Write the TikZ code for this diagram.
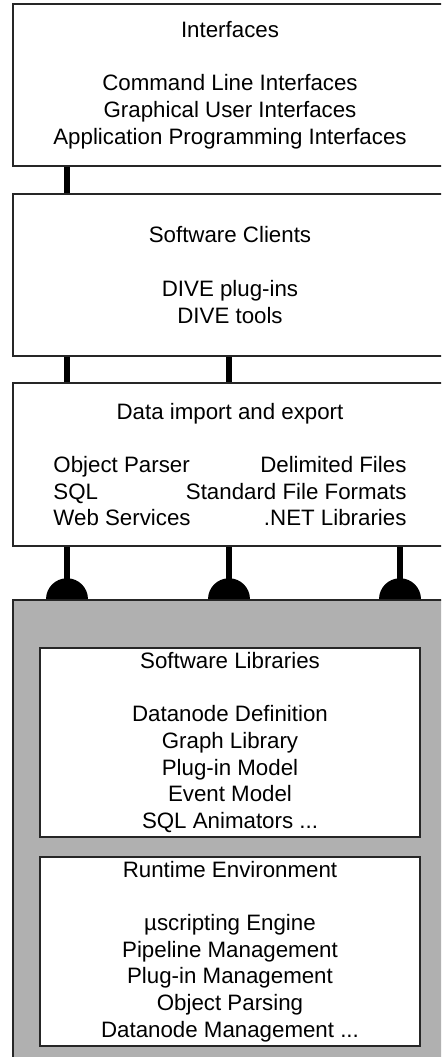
\documentclass[tikz,border=0pt]{standalone}
\usepackage{fontspec}
\setmainfont{Liberation Sans}
\usepackage{tikz}
\usetikzlibrary{positioning}

\definecolor{platformgray}{gray}{0.69}

\begin{document}
\begin{tikzpicture}[
      x=0.5pt, y=0.5pt,
      every node/.style={inner sep=0pt, align=center, font=\fontsize{11.15}{13.35}\selectfont},
      layer/.style={draw=black!85, line width=0.75pt, fill=white, minimum width=217pt},
      platform/.style={draw=black!85, line width=0.75pt, fill=platformgray, minimum width=217pt, minimum height=231pt},
      inner/.style={draw=black!85, line width=0.75pt, fill=white, minimum width=190pt, minimum height=94.5pt},
      link/.style={line width=2.6pt}
    ]

    \useasboundingbox (0,0) rectangle (441,1057);
    \clip (0,0) rectangle (441,1057);

    % layers
    \node[layer, minimum height=81pt] (iface) at (230,972)
      {Interfaces\\[13.35pt]Command Line Interfaces\\Graphical User Interfaces\\Application Programming Interfaces};
    \node[layer, minimum height=81pt] (clients) at (230,782)
      {Software Clients\\[13.35pt]DIVE plug-ins\\DIVE tools};
    \node[layer, minimum height=81.5pt] (dataio) at (230,592.5)
      {Data import and export\\[13.35pt]
       \makebox[176.5pt]{\rlap{Object Parser}\hfill\llap{Delimited Files}}\\
       \makebox[176.5pt]{\rlap{SQL}\hfill\llap{Standard File Formats}}\\
       \makebox[176.5pt]{\rlap{Web Services}\hfill\llap{.NET Libraries}}};

    \node[platform] (platform) at (230,226) {};
    \node[inner] (libs) at (230,314.5)
      {Software Libraries\\[13.35pt]Datanode Definition\\Graph Library\\Plug-in Model\\Event Model\\SQL Animators ...};
    \node[inner] (runtime) at (230,105.5)
      {Runtime Environment\\[13.35pt]µscripting Engine\\Pipeline Management\\Plug-in Management\\Object Parsing\\Datanode Management ...};

    % connector columns
    \coordinate (colA) at (67,0);
    \coordinate (colB) at (229,0);
    \coordinate (colC) at (400,0);

    \draw[link] (iface.south -| colA) -- (clients.north -| colA);
    \draw[link] (clients.south -| colA) -- (dataio.north -| colA);
    \draw[link] (clients.south -| colB) -- (dataio.north -| colB);

    \foreach \c in {colA, colB, colC} {
      \draw[link] (dataio.south -| \c) -- (platform.north -| \c);
      \fill ([xshift=-10.5pt]platform.north -| \c) arc[start angle=180, end angle=0, radius=10.5pt];
    }

\end{tikzpicture}
\end{document}
